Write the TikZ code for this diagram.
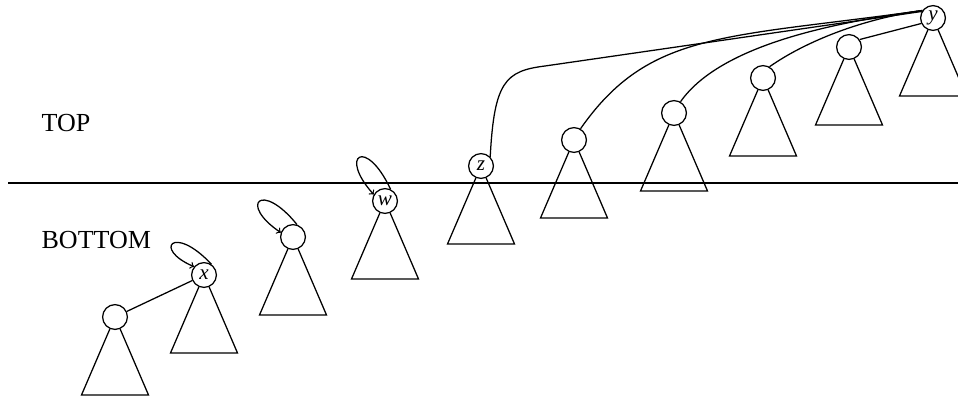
\documentclass[tikz,border=0pt]{standalone}
\usepackage{fontspec}
\setmainfont{Liberation Serif}
\usepackage{tikz}
\usetikzlibrary{positioning}

\begin{document}
\begin{tikzpicture}[x=0.025cm, y=0.025cm, line width=0.9pt,
    main/.style = {draw, circle, fill=white, minimum size=0.62cm, inner sep=0pt, font=\fontsize{15}{15}\selectfont\itshape},
    level/.style = {anchor=base west, inner sep=0pt, font=\fontsize{18.5}{20}\selectfont}]
    \useasboundingbox (0,0) rectangle (958,396);

    \node[level] (top) at (41,265) {TOP};
    \node[level] (bottom) at (41,148) {BOTTOM};
    \coordinate (cutl) at (8,213);
    \coordinate (cutr) at (958,213);
    \draw[line width=1.9pt] (cutl) -- (cutr);

    \node[main] (l) at (115,79) {};
    \node[main] (x) at (204,121) {x};
    \node[main] (u) at (293,159) {};
    \node[main] (w) at (385,195) {w};
    \node[main] (z) at (481,230) {z};
    \node[main] (t1) at (574,256) {};
    \node[main] (t2) at (674,283) {};
    \node[main] (t3) at (763,318) {};
    \node[main] (t4) at (849,349) {};
    \node[main] (y) at (933,378) {y};

    % subtrees
    \draw (l) -- ++(-33.5,-78) -- ++(67,0) -- (l);
    \draw (x) -- ++(-33.5,-78) -- ++(67,0) -- (x);
    \draw (u) -- ++(-33.5,-78) -- ++(67,0) -- (u);
    \draw (w) -- ++(-33.5,-78) -- ++(67,0) -- (w);
    \draw (z) -- ++(-33.5,-78) -- ++(67,0) -- (z);
    \draw (t1) -- ++(-33.5,-78) -- ++(67,0) -- (t1);
    \draw (t2) -- ++(-33.5,-78) -- ++(67,0) -- (t2);
    \draw (t3) -- ++(-33.5,-78) -- ++(67,0) -- (t3);
    \draw (t4) -- ++(-33.5,-78) -- ++(67,0) -- (t4);
    \draw (y) -- ++(-33.5,-78) -- ++(67,0) -- (y);

    \draw (x) -- (l);
    \draw[->] (x.55) .. controls +(133:56) and +(157:45) .. (x.140);
    \draw[->] (u.72) .. controls +(129:57) and +(146:51) .. (u.160);
    \draw[->] (w.65) .. controls +(115:58) and +(132:53) .. (w.150);

    \coordinate (bend) at (545,330);
    \draw (z.45) .. controls +(87:75) and +(187:40) .. (bend) -- (y.150);
    \draw (t1.60) .. controls +(55:120) and +(188:200) .. (y.145);
    \draw (t2.60) .. controls +(55:75) and +(188:70) .. (y.145);
    \draw (t3.60) .. controls +(35:45) and +(188:60) .. (y.145);
    \draw (t4.35) -- (y.205);
\end{tikzpicture}
\end{document}
